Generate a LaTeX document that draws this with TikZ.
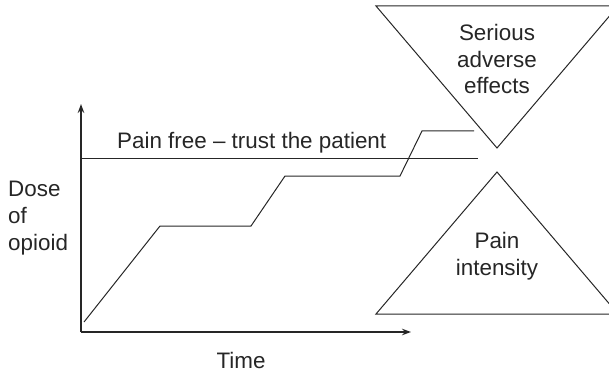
\documentclass[tikz,border=0pt]{standalone}
\usepackage{fontspec}
\setmainfont{Liberation Sans}
\usetikzlibrary{arrows.meta}
\begin{document}
\begin{tikzpicture}[x=1pt,y=-1pt,
  lbl/.style={inner sep=0pt,font=\fontsize{22.4}{26.7}\selectfont,text=black!85},
  axis/.style={line width=1.7pt,black!85,-{Stealth[length=9pt,width=6.5pt]}},
  thin/.style={line width=1pt,black!85},
  tri/.style={line width=1pt,black!85}]
  \useasboundingbox (0,0) rectangle (609,374);
  \clip (0,0) rectangle (609,374);

  % axes
  \coordinate (O) at (81,332);
  \coordinate (ytop) at (81,104);
  \coordinate (xend) at (411,332);
  \draw[axis] (O) -- (ytop);
  \draw[axis] (O) -- (xend);

  % pain free threshold
  \coordinate (pf0) at (81,158);
  \coordinate (pf1) at (478,158);
  \draw[thin] (pf0) -- (pf1);
  \node[lbl,anchor=base west] (pftext) at (117,148) {Pain free -- trust the patient};

  % dose titration steps
  \coordinate (d0) at (84,322);
  \coordinate (d1) at (160,226);
  \coordinate (d2) at (251,226);
  \coordinate (d3) at (285,176);
  \coordinate (d4) at (400,176);
  \coordinate (d5) at (422,131);
  \coordinate (d6) at (474,131);
  \draw[thin] (d0) -- (d1) -- (d2) -- (d3) -- (d4) -- (d5) -- (d6);

  % axis labels
  \node[lbl,anchor=north west,align=left] (dose) at (8,181) {Dose\\of\\opioid};
  \node[lbl,anchor=base] (time) at (241,368) {Time};

  % balance triangles
  \coordinate (ta) at (376,6);
  \coordinate (tb) at (618,6);
  \coordinate (tc) at (497,148);
  \draw[tri] (ta) -- (tb) -- (tc) -- cycle;
  \node[lbl,anchor=north,align=center] (adverse) at (497,24) {Serious\\adverse\\effects};

  \coordinate (ba) at (497,172);
  \coordinate (bb) at (618,314);
  \coordinate (bc) at (376,314);
  \draw[tri] (ba) -- (bb) -- (bc) -- cycle;
  \node[lbl,anchor=north,align=center] (pain) at (497,232) {Pain\\intensity};
\end{tikzpicture}
\end{document}
